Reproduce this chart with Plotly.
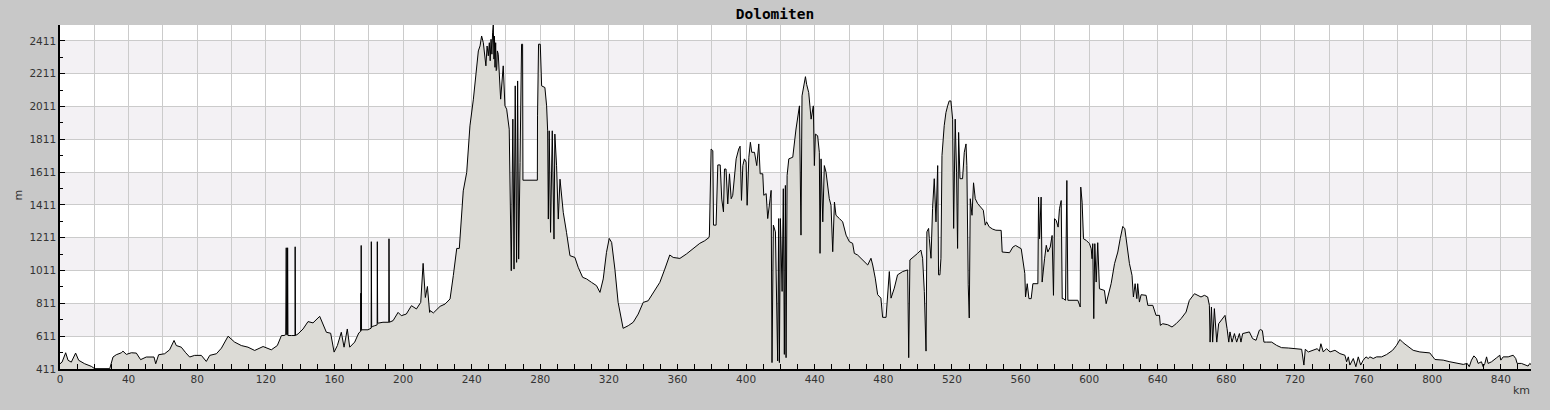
import plotly.graph_objects as go

# elevation profile (km, m)
km = [
    0.0, 1.2, 3.3, 4.7, 6.6, 9.1, 10.9, 14.4, 18.3, 20.2, 29.0, 30.9, 32.8, 35.8, 36.7, 38.7,
    41.6, 44.5, 47.0, 50.3, 54.8, 55.8, 57.5, 61.0, 63.9, 66.5, 67.8, 70.7, 73.3, 75.6, 78.5,
    82.4, 85.3, 87.3, 91.2, 94.1, 98.0, 101.8, 105.7, 109.6, 113.5, 118.4, 123.2, 126.7, 129.1,
    130.6, 131.6, 131.7, 131.8, 131.9, 132.1, 132.6, 132.7, 132.9, 134.9, 137.0, 137.1, 137.3,
    138.8, 141.7, 144.6, 147.5, 151.4, 153.4, 155.3, 157.8, 159.8, 161.7, 164.0, 165.6, 167.5,
    168.9, 171.8, 174.2, 175.3, 175.4, 175.5, 175.6, 175.8, 179.6, 181.4, 181.5, 181.7, 181.9,
    182.1, 183.5, 184.9, 185.0, 185.2, 188.3, 191.7, 191.8, 192.0, 194.2, 197.1, 199.0, 201.9,
    204.9, 207.8, 210.3, 211.7, 213.0, 214.2, 215.5,
    215.7, 217.7, 221.6, 224.5, 227.4, 229.3, 231.3, 232.8, 235.1, 237.1, 239.0, 241.0, 242.9,
    243.9, 244.9, 245.8, 246.8, 248.3, 249.0, 249.7, 250.3, 250.8, 251.3, 251.8, 252.2, 252.6,
    253.0, 253.3, 253.6, 254.0, 254.3, 254.6, 255.0, 255.5, 256.9, 258.4,
    259.4, 260.4, 261.9, 262.7, 263.1, 264.0, 264.7, 265.4, 266.2, 266.8, 267.4, 268.2, 269.1,
    269.7, 269.9, 278.3, 278.4, 279.0, 280.0, 280.8, 282.7, 283.7, 284.3, 284.7, 285.2, 286.0,
    287.0, 288.0, 288.5, 289.5, 290.5, 291.5, 293.4, 295.3, 297.3, 300.2, 302.1, 304.7, 307.0,
    309.9, 312.8, 314.8, 316.7, 318.6, 320.2, 321.6, 323.5, 325.4, 328.3, 331.3, 334.2, 337.1,
    340.0, 342.9, 345.8, 349.7, 352.6, 355.5, 357.5, 361.4, 365.2, 369.1, 373.0, 375.9, 378.4,
    378.6, 379.2, 379.6, 380.6, 381.0, 382.5, 383.5, 384.9, 385.8, 386.8, 387.4, 388.3, 389.3,
    390.3, 391.3, 392.2, 394.2, 395.7, 396.5, 397.3, 398.1, 399.0, 400.0, 400.6, 401.6, 402.5,
    403.3, 404.9, 406.2, 407.4, 408.2, 409.7, 410.3, 411.7, 412.6, 414.0, 414.6, 415.1, 415.9,
    417.1, 418.4, 419.0, 419.4, 420.0, 421.0, 421.7, 422.3, 422.9, 423.3, 423.9, 424.9, 427.2,
    429.1, 431.1, 432.0, 432.6, 433.6, 434.6, 435.3, 436.5, 437.9, 439.2, 439.8, 440.4, 441.7,
    442.7, 443.1, 443.7, 444.7, 445.6, 446.6, 448.5, 449.5, 450.5, 451.5, 452.4, 454.4, 456.3,
    458.3, 460.2, 462.1, 463.1, 465.0, 467.0, 468.9, 470.9, 472.8, 473.8, 475.3, 476.7, 478.6,
    479.6, 481.6, 482.5, 483.5, 484.5, 486.4, 488.3, 491.3, 494.2, 494.8, 495.5, 498.1, 500.0,
    501.9, 502.9, 503.9, 504.9, 505.4, 506.4, 506.8, 507.8, 508.7, 509.7, 510.7, 511.7, 512.2,
    513.0, 513.6, 514.2, 515.5, 516.5, 517.5, 518.4, 519.4, 520.4, 521.0, 521.9, 522.7, 523.3,
    523.9, 524.7, 526.2, 527.2, 528.2, 528.7, 529.5, 530.1, 530.7, 531.7, 532.6, 533.6, 535.0,
    536.9, 538.3, 539.4, 540.2, 541.7, 543.7, 545.6, 547.6,
    548.7, 549.3, 551.7, 553.6, 555.5, 557.1, 560.4, 561.4, 562.5, 562.9, 563.9, 564.9, 566.2,
    567.2, 570.1, 570.5, 571.1, 572.0, 572.6, 574.0, 575.0, 575.9, 577.3, 578.4, 579.2, 579.8,
    580.8, 581.9, 582.7, 583.7, 584.3, 585.0, 586.2, 587.0, 587.6, 593.4, 594.8, 595.1, 595.9,
    596.7, 598.3, 600.2, 601.2, 601.7, 602.1, 602.7, 603.3, 604.1, 605.0, 606.0, 608.9, 609.9,
    610.9, 612.8, 614.8, 616.7, 618.1, 619.6, 620.8, 622.1, 623.5, 625.0, 625.8, 626.8, 627.8,
    628.3, 629.3, 630.3, 633.2, 634.2, 637.1, 639.0, 641.0, 641.5, 642.9, 645.8, 648.3, 650.7,
    653.6, 656.5, 658.4, 661.4, 663.3, 665.2, 667.2, 669.1, 670.1, 670.5, 671.3, 672.0, 673.0,
    674.4, 675.5, 677.9, 679.2, 680.4, 681.4, 682.1, 683.3, 684.7, 686.0, 687.6, 688.5, 689.5,
    693.4, 695.3, 697.3, 699.2,
    700.0, 701.0, 701.9, 703.5, 706.4, 709.3, 712.2, 716.1, 720.0, 723.9, 725.2, 726.0, 727.8,
    730.7, 733.0, 734.2, 735.1, 736.5, 738.4, 740.4, 743.3, 746.2, 749.1, 750.1, 751.1, 752.0,
    754.0, 755.5, 756.9, 758.3, 759.8, 761.4, 762.7, 763.7, 765.6, 767.6, 770.5, 773.4, 776.9,
    779.2, 781.2, 783.1, 786.1, 788.9, 792.8, 798.6, 801.6, 806.4, 810.3, 814.2, 818.1, 820.4,
    821.6, 822.9, 824.3, 825.8, 826.8, 828.7, 829.7, 830.7, 831.7, 832.6, 834.6, 837.5, 839.4,
    840.0, 841.4, 844.3, 847.2, 848.7, 849.5, 852.0, 853.9, 855.9, 856.9, 857.9,
]
elev = [
    443, 453, 510, 464, 453, 508, 464, 443, 427, 413, 413, 484, 498, 510, 520, 500,
    510, 508, 468, 484, 484, 443, 498, 504, 528, 585, 554, 544, 510, 484, 494,
    494, 457, 494, 504, 538, 611, 575, 554, 544, 524, 548, 528, 554, 615,
    615, 620, 870, 620, 1150, 620, 620, 1150, 615, 615, 615, 1156, 615,
    625, 655, 700, 692, 732, 686, 635, 629, 514, 554, 635, 544, 655,
    544, 575, 631, 640, 873, 645, 1164, 650, 650, 660, 1187, 665, 1187,
    670, 675, 680, 1187, 690, 696, 696, 1205, 696, 706, 756, 736, 746,
    797, 777, 817, 1055, 847, 914, 756,
    767, 753, 793, 807, 838, 980, 1146, 1146, 1497, 1609, 1893, 2056, 2259,
    2350, 2381, 2441, 2400, 2259, 2380, 2320, 2400, 2290, 2421, 2330, 2460, 2508,
    2300, 2440, 2250, 2400, 2230, 2238, 2350, 2330, 2056, 2259,
    2015, 1995, 1873, 1447, 1010, 1934, 1020, 2137, 1061, 2167, 1081, 1670, 2391,
    2391, 1562, 1562, 1954, 2391, 2391, 2137, 2127, 2015, 1863, 1325, 1863, 1244,
    1863, 1203, 1843, 1650, 1325, 1568, 1366, 1244, 1102, 1091, 1031, 970, 960,
    939, 919, 878, 960, 1122, 1207, 1183, 1020, 817, 659, 675, 696, 746,
    817, 827, 878, 939, 1020, 1106, 1091, 1085, 1112, 1142, 1177, 1193, 1213,
    1227, 1480, 1752, 1742, 1288, 1288, 1655, 1655, 1447, 1369, 1630, 1630, 1417,
    1601, 1449, 1470, 1692, 1752, 1769, 1439, 1651, 1692, 1672, 1409, 1702, 1793,
    1732, 1732, 1651, 1783, 1601, 1601, 1470, 1480, 1328, 1449, 1500, 450, 1288,
    1247, 460, 1328, 450, 1328, 884, 1510, 500, 1530, 480, 1591, 1692, 1702,
    1874, 2015, 1227, 2076, 2136, 2193, 2146, 2096, 1934, 2015, 1651, 1843, 1833,
    1732, 1116, 1692, 1308, 1651, 1611, 1449, 1409, 1126, 1429, 1348, 1328, 1308,
    1227, 1187, 1177, 1116, 1106, 1086, 1065, 1045, 1086, 1045, 965, 864, 843,
    726, 726, 884, 1005, 843, 904, 985, 1005, 1015, 480, 1076, 1096, 1116,
    1136, 1086, 884, 520, 1247, 1268, 1207, 1086, 1389, 1571, 1308, 1651, 985,
    985, 1086, 1712, 1894, 1974, 2015, 2045, 2045, 1934, 1268, 1934, 1611, 1146,
    1853, 1571, 1571, 1732, 1783, 1651, 924, 722, 1449, 1348, 1546, 1449, 1419,
    1399, 1379, 1288, 1308, 1278, 1264, 1257, 1257,
    1256, 1124, 1120, 1120, 1154, 1164, 1144, 1053, 992, 850, 931, 840, 840,
    931, 931, 1459, 1205, 1459, 941, 1083, 1165, 1124, 1154, 1225, 860, 1327,
    1317, 1276, 1388, 1438, 840, 840, 830, 1560, 830, 830, 789, 1520, 1428,
    1205, 1195, 1175, 1144, 1083, 1175, 718, 1175, 941, 1181, 900, 890, 809,
    850, 931, 1053, 1124, 1205, 1280, 1266, 1165, 1053, 982, 850, 931, 840,
    931, 819, 864, 860, 799, 799, 738, 738, 677, 687, 681, 667, 687,
    718, 758, 829, 870, 860, 850, 860, 850, 799, 575, 789, 575, 779,
    575, 687, 718, 738, 657, 575, 637, 575, 627, 575, 627, 575, 627,
    637, 596, 586, 647,
    651, 645, 575, 575, 575, 555, 541, 539, 535, 531, 435, 531, 515,
    525, 535, 519, 565, 515, 535, 515, 525, 505, 495, 455, 485, 435,
    475, 425, 485, 435, 465, 485, 475, 485, 475, 485, 485, 499, 525,
    555, 591, 571, 545, 525, 515, 509, 469, 465, 455, 445, 439, 445,
    425, 465, 491, 475, 445, 455, 425, 445, 485, 445, 455, 479, 495,
    465, 485, 485, 495, 475, 445, 445, 435, 429, 445, 435,
]

y_ticks = list(range(411, 2412, 200))
x_ticks = list(range(0, 841, 20))
x_labels = [str(v) if v % 40 == 0 else '' for v in x_ticks]
band_starts = [611, 1011, 1411, 1811, 2211]

fig = go.Figure()
fig.add_trace(go.Scatter(
    x=km, y=elev,
    mode='lines',
    fill='tozeroy',
    fillcolor='#dcdbd6',
    line=dict(color='black', width=1),
))

# alternating light bands behind the grid
for b in band_starts:
    fig.add_shape(type='rect', xref='paper', yref='y', x0=0, x1=1, y0=b, y1=b + 200,
                  fillcolor='#f3f1f4', line_width=0, layer='below')

tick_font = dict(family='DejaVu Sans', size=10.5, color='#333333')

fig.update_xaxes(
    range=[0, 857.6],
    tickvals=x_ticks, ticktext=x_labels,
    ticks='inside', ticklen=5, tickcolor='black',
    showgrid=True, gridcolor='#cbcbcb', gridwidth=1,
    minor=dict(dtick=10, tick0=0, ticks='inside', ticklen=5, tickcolor='black', showgrid=False),
    showline=True, linecolor='black', linewidth=1.5,
    zeroline=False, tickfont=tick_font,
)
fig.update_yaxes(
    range=[411, 2508],
    tickvals=y_ticks,
    ticks='inside', ticklen=5, tickcolor='black',
    showgrid=True, gridcolor='#cbcbcb', gridwidth=1,
    minor=dict(dtick=100, tick0=411, ticks='inside', ticklen=3, tickcolor='black', showgrid=False),
    showline=True, linecolor='black', linewidth=1.5,
    zeroline=False, tickfont=tick_font,
)

# axis unit labels
fig.add_annotation(text='m', xref='paper', yref='paper', x=-0.034, y=0.506, textangle=-90,
                   showarrow=False, font=dict(family='DejaVu Sans', size=11, color='#333333'))
fig.add_annotation(text='km', xref='paper', yref='paper', x=0.9935, y=-0.062,
                   xanchor='center', yanchor='middle',
                   showarrow=False, font=dict(family='DejaVu Sans', size=11, color='#333333'))

fig.update_layout(
    width=1550, height=410,
    title=dict(text='<b>Dolomiten</b>', x=0.5, xref='container', y=0.966, yref='container',
               xanchor='center', yanchor='middle',
               font=dict(family='DejaVu Sans Mono', size=14.5, color='black')),
    paper_bgcolor='#c8c8c8',
    plot_bgcolor='white',
    margin=dict(l=60, r=19, t=25, b=41),
    showlegend=False,
)

fig.write_html("out.html", config={'displayModeBar': False},
               post_script="document.body.style.margin='0';")
